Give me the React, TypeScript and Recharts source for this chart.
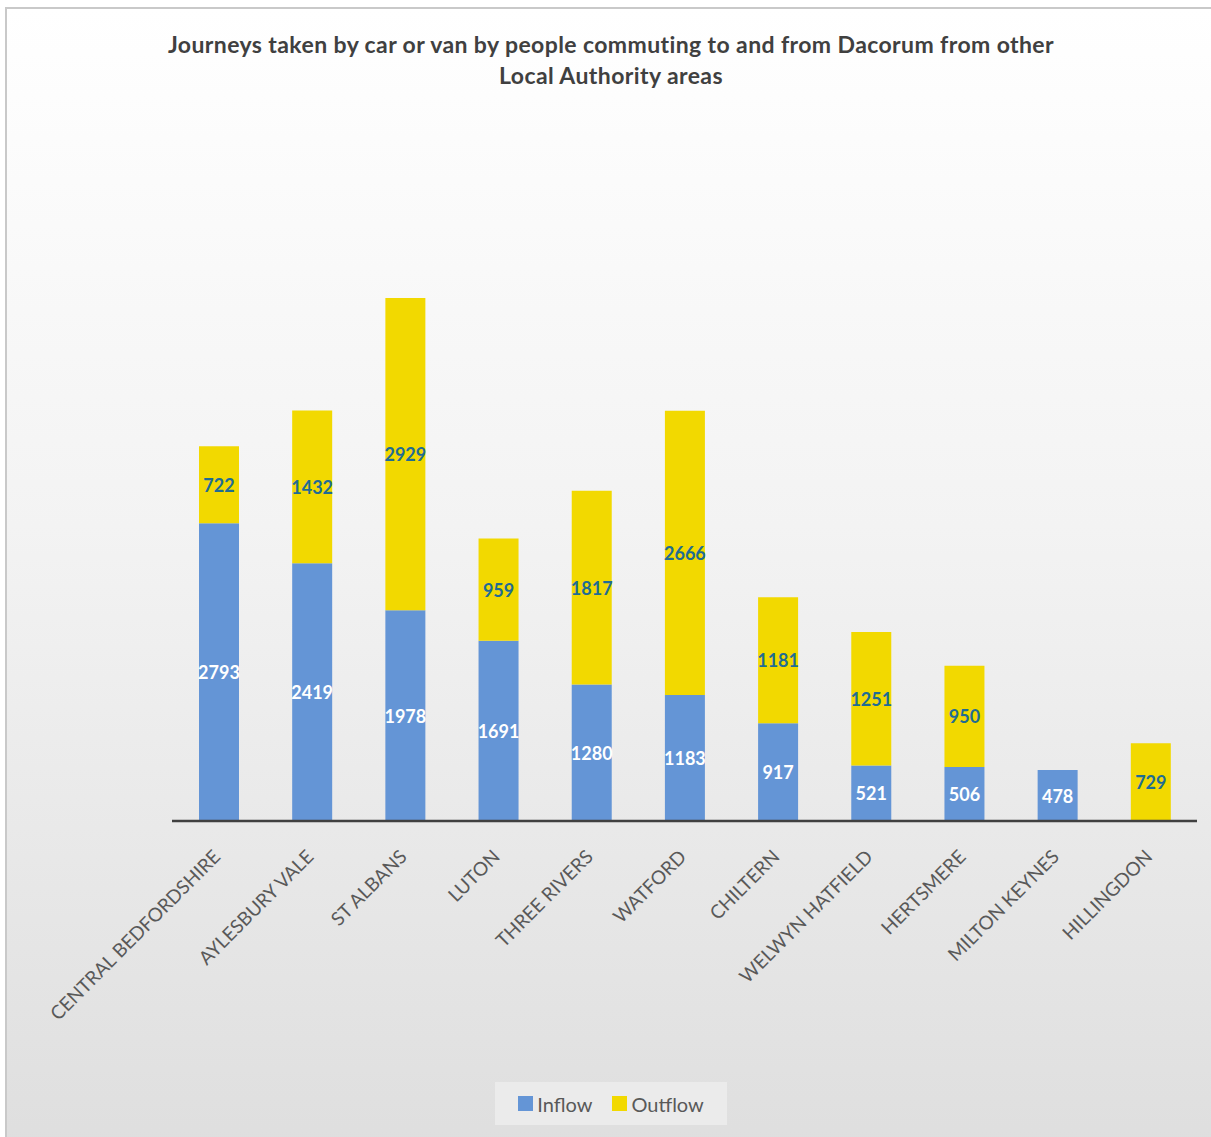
import React from 'react';
import { Bar, BarChart, LabelList, XAxis, YAxis } from 'recharts';

const areas = [
  'CENTRAL BEDFORDSHIRE',
  'AYLESBURY VALE',
  'ST ALBANS',
  'LUTON',
  'THREE RIVERS',
  'WATFORD',
  'CHILTERN',
  'WELWYN HATFIELD',
  'HERTSMERE',
  'MILTON KEYNES',
  'HILLINGDON',
];
const inflow = [2793, 2419, 1978, 1691, 1280, 1183, 917, 521, 506, 478, 0];
const outflow = [722, 1432, 2929, 959, 1817, 2666, 1181, 1251, 950, 0, 729];

const BLUE = '#6495d6';
const YELLOW = '#f2d900';
const OUT_LABEL = '#1f6c93';
const FONT = 'Lato, "Open Sans", sans-serif';

const data = areas.map((area, i) => ({ area, inflow: inflow[i], outflow: outflow[i] }));

function AreaTick(props: any) {
  const { x, y, payload } = props;
  const tx = x + 3;
  const ty = y + 37;
  return (
    <text
      x={tx}
      y={ty}
      transform={`rotate(-45 ${tx} ${ty})`}
      textAnchor="end"
      fontFamily={FONT}
      fontSize={19}
      fill="#595959"
    >
      {payload.value}
    </text>
  );
}

function makeLabel(color: string) {
  return function ValueLabel(props: any) {
    const { x, y, width, height, value } = props;
    if (!value) return null;
    return (
      <text
        x={x + width / 2}
        y={y + height / 2}
        textAnchor="middle"
        dominantBaseline="central"
        fontFamily={FONT}
        fontWeight={700}
        fontSize={18}
        fill={color}
      >
        {value}
      </text>
    );
  };
}

export default function App() {
  return (
    <div style={{ position: 'fixed', left: 0, top: 0, width: 1211, height: 1137, overflow: 'hidden', background: '#fff' }}>
      <div
        style={{
          position: 'absolute',
          left: 5,
          top: 7,
          width: 1230,
          height: 1150,
          borderTop: '2px solid #c9c9c9',
          borderLeft: '2px solid #c9c9c9',
          background: 'linear-gradient(to bottom, #ffffff 0%, #f3f3f3 45%, #dedede 100%)',
        }}
      />
      <div
        style={{
          position: 'absolute',
          left: 0,
          top: 29,
          width: 1222,
          textAlign: 'center',
          fontFamily: FONT,
          fontWeight: 700,
          fontSize: 23,
          letterSpacing: 0.4,
          lineHeight: '31px',
          color: '#404040',
        }}
      >
        Journeys taken by car or van by people commuting to and from Dacorum from other
        <br />
        Local Authority areas
      </div>
      <div style={{ position: 'absolute', left: 0, top: 0 }}>
        <BarChart
          width={1211}
          height={1137}
          data={data}
          margin={{ top: 288, right: 14, left: 172, bottom: 0 }}
        >
          <XAxis
            dataKey="area"
            interval={0}
            height={316}
            tickLine={false}
            tickSize={0}
            tickMargin={0}
            axisLine={{ stroke: '#404040', strokeWidth: 2.5 }}
            tick={<AreaTick />}
          />
          <YAxis hide domain={[0, 5000]} />
          <Bar dataKey="inflow" stackId="a" fill={BLUE} barSize={40} isAnimationActive={false}>
            <LabelList dataKey="inflow" content={makeLabel('#ffffff')} />
          </Bar>
          <Bar dataKey="outflow" stackId="a" fill={YELLOW} barSize={40} isAnimationActive={false}>
            <LabelList dataKey="outflow" content={makeLabel(OUT_LABEL)} />
          </Bar>
        </BarChart>
      </div>
      <div
        style={{
          position: 'absolute',
          left: 495,
          top: 1082,
          width: 232,
          height: 43,
          background: '#ebebeb',
          display: 'flex',
          alignItems: 'center',
          justifyContent: 'center',
          fontFamily: FONT,
          fontSize: 20,
          color: '#595959',
        }}
      >
        <span style={{ width: 15, height: 15, background: BLUE, marginRight: 4 }} />
        <span style={{ marginRight: 20 }}>Inflow</span>
        <span style={{ width: 15, height: 15, background: YELLOW, marginRight: 4 }} />
        <span>Outflow</span>
      </div>
    </div>
  );
}
